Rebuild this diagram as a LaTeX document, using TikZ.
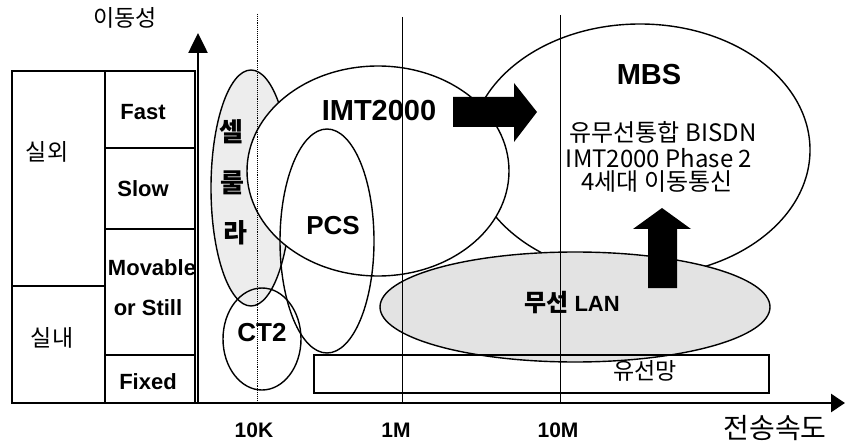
\documentclass[tikz,border=0pt]{standalone}
\usepackage{fontspec}
\setmainfont{Liberation Sans}
\newfontfamily\kr{Noto Sans CJK KR}
\usetikzlibrary{arrows.meta}
\begin{document}
\begin{tikzpicture}[x=1pt,y=-1pt,
 lab/.style={font=\fontsize{22}{24}\selectfont\bfseries, inner sep=0},
 biglab/.style={font=\fontsize{29}{31}\selectfont\bfseries, inner sep=0},
 krlab/.style={font=\kr\fontsize{23}{26}\selectfont, inner sep=0},
 krbold/.style={font=\kr\bfseries\fontsize{26}{28}\selectfont, inner sep=0},
 mbstext/.style={font=\kr\fontsize{24}{26}\selectfont, inner sep=0},
 tbl/.style={line width=1.4pt},
 oval/.style={line width=1.4pt},
 gridline/.style={line width=0.9pt},
 axis/.style={line width=2.6pt}
]
\useasboundingbox (0,0) rectangle (845,446);

% ellipses (back to front)
\draw[oval, fill=white] (640,150) ellipse [x radius=170, y radius=126];
\draw[oval, fill=gray!14] (251,188) ellipse [x radius=40, y radius=118];
\draw[oval, fill=white] (378,171) ellipse [x radius=131, y radius=105];
\draw[oval] (327,241) ellipse [x radius=47, y radius=112];
\draw[oval] (262,339) ellipse [x radius=39, y radius=51];
\draw[oval, fill=gray!22] (575,307) ellipse [x radius=195, y radius=55];
\draw[tbl] (314,355) rectangle (769,393);

% grid lines
\draw[gridline, densely dotted] (257,14) -- (257,403);
\draw[gridline] (402,17) -- (402,403);
\draw[gridline] (560,15) -- (560,403);

% table
\draw[tbl] (12,71) rectangle (195,403);
\draw[tbl] (105,71) -- (105,403);
\draw[tbl] (12,286) -- (105,286);
\draw[tbl] (105,148) -- (195,148);
\draw[tbl] (105,229) -- (195,229);
\draw[tbl] (105,355) -- (195,355);

% axes
\draw[axis, -{Triangle[length=20pt,width=19pt]}] (198,404) -- (198,33);
\draw[axis, -{Triangle[length=14pt,width=18pt]}] (12,403) -- (845,403);

% block arrows
\fill (453,97) -- (514,97) -- (514,83) -- (537,112) -- (514,142) -- (514,127) -- (453,127) -- cycle;
\fill (648,288) -- (648,229) -- (633,229) -- (662,208) -- (691,229) -- (677,229) -- (677,288) -- cycle;

% labels
\node[krlab] (ylab) at (125,18) {이동성};
\node[krlab, font=\kr\fontsize{28}{30}\selectfont] (xlab) at (775,428) {전송속도};
\node[krlab] (out) at (47,152) {실외};
\node[krlab] (in) at (52,338) {실내};
\node[lab] (fast) at (143,112) {Fast};
\node[lab] (slow) at (143,189) {Slow};
\node[lab] (mov) at (152,268) {Movable};
\node[lab] (still) at (148,308) {or Still};
\node[lab] (fixed) at (148,382) {Fixed};
\node[lab, font=\fontsize{21}{23}\selectfont\bfseries] (t1) at (254,430) {10K};
\node[lab, font=\fontsize{21}{23}\selectfont\bfseries] (t2) at (396,430) {1M};
\node[lab, font=\fontsize{21}{23}\selectfont\bfseries] (t3) at (558,430) {10M};
\node[krbold] (c1) at (231,132) {셀};
\node[krbold] (c2) at (232,183) {룰};
\node[krbold] (c3) at (235,233) {라};
\node[lab, font=\fontsize{26}{28}\selectfont\bfseries] (ct2) at (262,333) {CT2};
\node[lab, font=\fontsize{26}{28}\selectfont\bfseries] (pcs) at (333,226) {PCS};
\node[biglab] (imt) at (379,111) {IMT2000};
\node[biglab] (mbs) at (649,75) {MBS};
\node[mbstext] (m1) at (663,132) {유무선통합 BISDN};
\node[mbstext] (m2) at (659,158) {IMT2000 Phase 2};
\node[mbstext] (m3) at (657,182) {4세대 이동통신};
\node[lab] (lan) at (572,303) {{\kr\bfseries\fontsize{24}{26}\selectfont 무선} LAN};
\node[krlab] (wired) at (645,371) {유선망};
\end{tikzpicture}
\end{document}
